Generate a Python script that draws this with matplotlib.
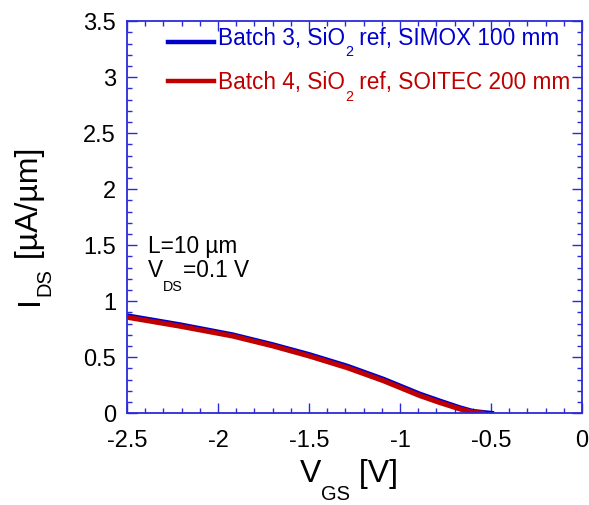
import matplotlib
matplotlib.use("Agg")
import matplotlib.pyplot as plt
from matplotlib.lines import Line2D
from matplotlib.ticker import MultipleLocator

plt.rcParams['font.family'] = ['Liberation Sans', 'DejaVu Sans']

# Batch 3 (blue)
vgs_b3 = [-2.5, -2.21, -1.92, -1.70, -1.50, -1.29, -1.09, -0.89, -0.78, -0.67, -0.60, -0.495]
ids_b3 = [0.872, 0.792, 0.702, 0.614, 0.526, 0.422, 0.305, 0.172, 0.110, 0.050, 0.018, 0.0]
# Batch 4 (red)
vgs_b4 = [-2.5, -2.21, -1.92, -1.70, -1.50, -1.29, -1.09, -0.89, -0.78, -0.67, -0.60, -0.545]
ids_b4 = [0.856, 0.776, 0.688, 0.600, 0.510, 0.405, 0.288, 0.155, 0.093, 0.036, 0.008, 0.0]

xticks = [-2.5, -2, -1.5, -1, -0.5, 0]
xtick_labels = ['-2.5', '-2', '-1.5', '-1', '-0.5', '0']
yticks = [0, 0.5, 1, 1.5, 2, 2.5, 3, 3.5]
ytick_labels = ['0', '0.5', '1', '1.5', '2', '2.5', '3', '3.5']

blue = '#0000cc'
red = '#c00000'
frame = '#2a2ad8'
SUB = 0.63   # subscript size ratio
DESC = 0.212  # descent of the font, in em


def chain(first, pieces, fs, color, drop, rot=False):
    # write pieces after 'first', subscripts dropped by drop*fs points
    prev = first
    for s, is_sub in pieces:
        size = fs * SUB if is_sub else fs
        off = (DESC * fs - drop * fs - DESC * size) if is_sub else 0
        if rot:
            prev = ax.annotate(s, xy=(1, 1), xycoords=(first, prev),
                               xytext=(-off, 0), textcoords='offset points',
                               rotation=90, ha='right', va='bottom',
                               fontsize=size, color=color, annotation_clip=False)
        else:
            prev = ax.annotate(s, xy=(1, 0), xycoords=(prev, first),
                               xytext=(0, off), textcoords='offset points',
                               ha='left', va='bottom',
                               fontsize=size, color=color, annotation_clip=False)
    return prev


fig = plt.figure(figsize=(5.89, 5.05), dpi=100)
ax = fig.add_axes([0.2156, 0.182, 0.7724, 0.776])

ax.plot(vgs_b3, ids_b3, color=blue, lw=3.2)
ax.plot(vgs_b4, ids_b4, color=red, lw=3.6)

ax.set_xlim(-2.5, 0)
ax.set_ylim(0, 3.5)
ax.set_xticks(xticks)
ax.set_xticklabels(xtick_labels)
ax.set_yticks(yticks)
ax.set_yticklabels(ytick_labels)
ax.xaxis.set_minor_locator(MultipleLocator(0.1))
ax.yaxis.set_minor_locator(MultipleLocator(0.1))

for s in ax.spines.values():
    s.set_color(frame)
    s.set_linewidth(1.3)
ax.tick_params(which='both', direction='in', top=True, right=True,
               color=frame, labelsize=17, labelcolor='black')
ax.tick_params(which='major', length=7, width=1)
ax.tick_params(which='minor', length=3.5, width=1)
ax.tick_params(axis='x', pad=12)
ax.tick_params(axis='y', pad=8)

# axis labels with low subscripts
fs_lab = 23
xl = ax.text(0.38, -0.175, 'V', transform=ax.transAxes, fontsize=fs_lab,
             ha='left', va='baseline', clip_on=False)
chain(xl, [('GS', True), (' [V]', False)], fs_lab, 'black', 0.55)

yl = ax.text(-0.18, 0.276, 'I', transform=ax.transAxes, fontsize=fs_lab,
             rotation=90, ha='right', va='bottom', clip_on=False)
chain(yl, [('DS', True), (' [µA/µm]', False)], fs_lab, 'black', 0.38, rot=True)

# conditions
fs_txt = 16.3
ax.text(-2.385, 1.426, 'L=10 µm', fontsize=fs_txt, va='baseline')
vt = ax.text(-2.385, 1.217, 'V', fontsize=fs_txt, va='baseline')
chain(vt, [('DS', True), ('=0.1 V', False)], fs_txt, 'black', 0.6)

# legend
legend_rows = [
    (blue, 0.946, 0.9396, 'Batch 3, SiO', ' ref, SIMOX 100 mm'),
    (red, 0.848, 0.826, 'Batch 4, SiO', ' ref, SOITEC 200 mm'),
]
for col, yl_line, yl_text, pre, post in legend_rows:
    ax.add_line(Line2D([0.09, 0.191], [yl_line, yl_line], color=col, lw=3.2,
                       transform=ax.transAxes))
    t = ax.text(0.2, yl_text, pre, transform=ax.transAxes, fontsize=fs_txt,
                color=col, ha='left', va='baseline')
    chain(t, [('2', True), (post, False)], fs_txt, col, 0.5)

fig.savefig('out.png', dpi=100)
